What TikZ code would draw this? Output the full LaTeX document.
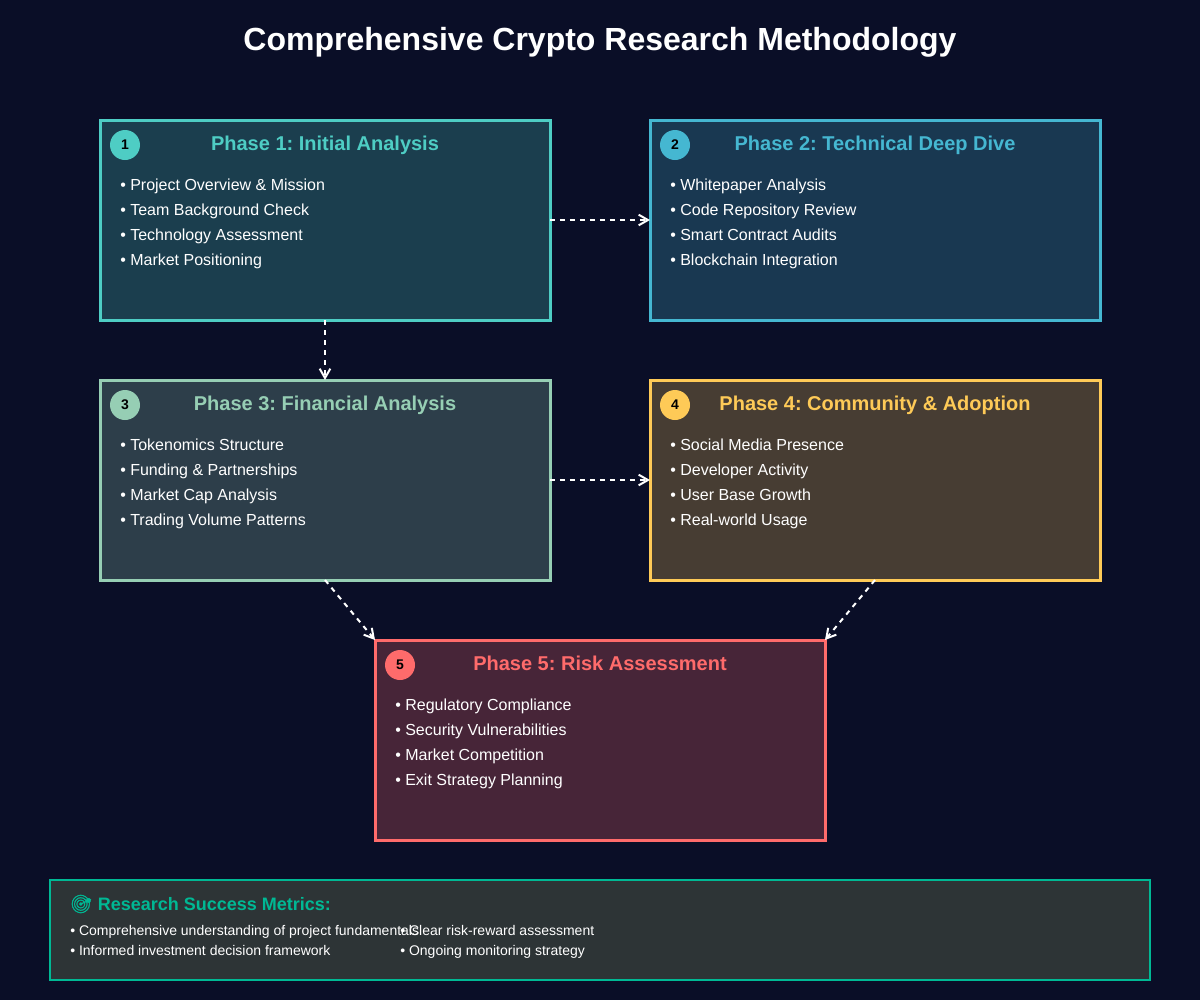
\documentclass[tikz,border=0pt]{standalone}
\usepackage{fontspec}
\setmainfont{Liberation Sans}
\newfontfamily\emojifont[FakeBold=1.5]{Noto Emoji}
\usetikzlibrary{arrows.meta,positioning}
\frenchspacing
\definecolor{nightbg}{HTML}{0A0E27}
\definecolor{tealc}{HTML}{4ECDC4}
\definecolor{bluec}{HTML}{45B7D1}
\definecolor{sagec}{HTML}{96CEB4}
\definecolor{amberc}{HTML}{FECA57}
\definecolor{redc}{HTML}{FF6B6B}
\definecolor{metricc}{HTML}{00B894}
\definecolor{metricbg}{HTML}{2D3436}

\begin{document}
\begin{tikzpicture}[
    x=0.75pt, y=-0.75pt,
    node distance=75pt,
    phase/.style={draw=#1, fill=#1!25!nightbg, line width=2.25pt, minimum width=337.5pt, minimum height=150pt, outer sep=0pt, inner sep=0pt},
    badge/.style={circle, fill=#1, text=black, minimum size=22.5pt, inner sep=0pt, font=\fontsize{10.5}{12}\selectfont\bfseries},
    heading/.style={text=#1, inner sep=0pt, anchor=base, font=\fontsize{15}{18}\selectfont\bfseries},
    items/.style={text=white, align=left, inner sep=0pt, anchor=north west, font=\fontsize{12}{18.75}\selectfont},
    small/.style={text=white, align=left, inner sep=0pt, anchor=north west, font=\fontsize{10.5}{15}\selectfont},
    link/.style={-{Straight Barb[length=7pt,width=8pt]}, white, line width=1.5pt, dash pattern=on 3.75pt off 3.75pt}
]
\fill[nightbg] (0,0) rectangle (1200,1000);
\node[text=white, inner sep=0pt, font=\fontsize{24}{30}\selectfont\bfseries] (title) at (600,42.5) {Comprehensive Crypto Research Methodology};

% phases
\node[phase=tealc] (phase1) at (325,220) {};
\node[phase=bluec, right=of phase1] (phase2) {};
\node[phase=sagec, below=45pt of phase1] (phase3) {};
\node[phase=amberc, right=of phase3] (phase4) {};
\node[phase=redc] (phase5) at (600,740) {};

\node[badge=tealc] (badge1) at ([shift={(18.75pt,-18.75pt)}]phase1.north west) {1};
\node[badge=bluec] (badge2) at ([shift={(18.75pt,-18.75pt)}]phase2.north west) {2};
\node[badge=sagec] (badge3) at ([shift={(18.75pt,-18.75pt)}]phase3.north west) {3};
\node[badge=amberc] (badge4) at ([shift={(18.75pt,-18.75pt)}]phase4.north west) {4};
\node[badge=redc] (badge5) at ([shift={(18.75pt,-18.75pt)}]phase5.north west) {5};

\node[heading=tealc] (head1) at ([yshift=-22.5pt]phase1.north) {Phase 1: Initial Analysis};
\node[heading=bluec] (head2) at ([yshift=-22.5pt]phase2.north) {Phase 2: Technical Deep Dive};
\node[heading=sagec] (head3) at ([yshift=-22.5pt]phase3.north) {Phase 3: Financial Analysis};
\node[heading=amberc] (head4) at ([yshift=-22.5pt]phase4.north) {Phase 4: Community \& Adoption};
\node[heading=redc] (head5) at ([yshift=-22.5pt]phase5.north) {Phase 5: Risk Assessment};

\node[items] (list1) at ([shift={(15pt,-43.75pt)}]phase1.north west) {• Project Overview \& Mission\\• Team Background Check\\• Technology Assessment\\• Market Positioning};
\node[items] (list2) at ([shift={(15pt,-43.75pt)}]phase2.north west) {• Whitepaper Analysis\\• Code Repository Review\\• Smart Contract Audits\\• Blockchain Integration};
\node[items] (list3) at ([shift={(15pt,-43.75pt)}]phase3.north west) {• Tokenomics Structure\\• Funding \& Partnerships\\• Market Cap Analysis\\• Trading Volume Patterns};
\node[items] (list4) at ([shift={(15pt,-43.75pt)}]phase4.north west) {• Social Media Presence\\• Developer Activity\\• User Base Growth\\• Real-world Usage};
\node[items] (list5) at ([shift={(15pt,-43.75pt)}]phase5.north west) {• Regulatory Compliance\\• Security Vulnerabilities\\• Market Competition\\• Exit Strategy Planning};

% metrics panel
\node[draw=metricc, fill=metricbg, line width=1.5pt, minimum width=825pt, minimum height=75pt, outer sep=0pt, inner sep=0pt] (metrics) at (600,930) {};
\node[text=metricc, inner sep=0pt, anchor=west, font=\fontsize{13.5}{16}\selectfont\bfseries] (metricshead) at ([shift={(14.8pt,-18pt)}]metrics.north west) {{\emojifont 🎯} Research Success Metrics:};
\node[small] (metricsleft) at ([shift={(15pt,-33.75pt)}]metrics.north west) {• Comprehensive understanding of project fundamentals\\• Informed investment decision framework};
\node[small] (metricsright) at ([shift={(262.5pt,-33.75pt)}]metrics.north west) {• Clear risk-reward assessment\\• Ongoing monitoring strategy};

\draw[link] (phase1) -- (phase2);
\draw[link] (phase1) -- (phase3);
\draw[link] (phase3) -- (phase4);
\draw[link] (phase3.south) -- (phase5.north west);
\draw[link] (phase4.south) -- (phase5.north east);
\end{tikzpicture}
\end{document}
